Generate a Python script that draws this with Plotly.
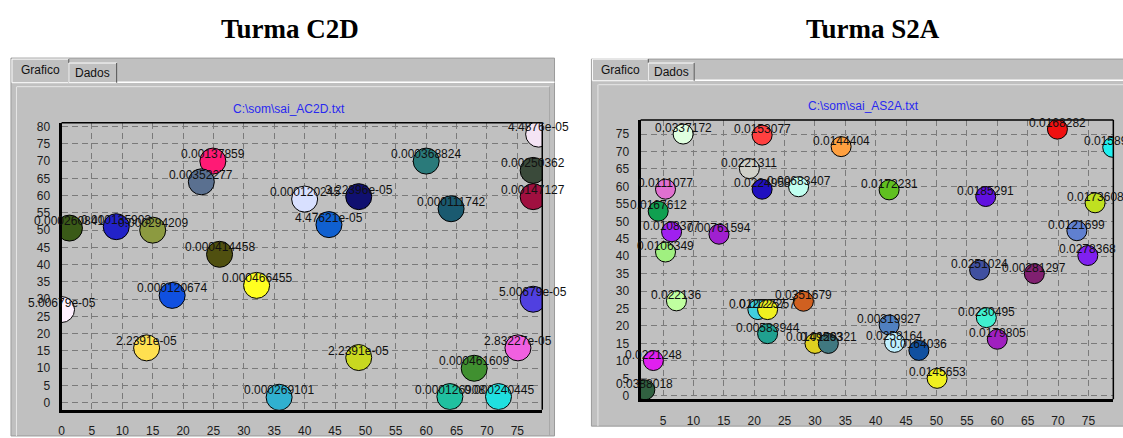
import plotly.graph_objects as go

W, H = 1123, 438

# ---------------- Turma C2D (left) ----------------
c2d_x = [1.3, 9.0, 15.0, 24.9, 23.0, 40.0, 48.9, 44.0, 60.0, 64.1, 78.5, 77.6, 77.6,
         26.0, 32.1, 18.2, 0.0, 14.0, 35.8, 48.9, 77.6, 75.1, 67.9, 63.9, 71.9]
c2d_y = [50.6, 51.0, 50.0, 70.0, 64.0, 59.0, 59.7, 51.6, 70.0, 56.2, 77.8, 67.3, 59.7,
         43.0, 34.0, 31.1, 27.0, 15.9, 1.6, 13.1, 30.0, 15.9, 10.0, 1.8, 1.8]
c2d_labels = ["0.000260841", "0.000135903", "0.000294209", "0.00137859", "0.00352277",
              "0.000120245", "3.22396e-05", "4.47621e-05", "0.000368824", "0.000111742",
              "4.4876e-05", "0.00250362", "0.00147127", "0.000414458", "0.000466455",
              "0.000120674", "5.00679e-05", "2.2391e-05", "0.000269101", "2.2391e-05",
              "5.00679e-05", "2.83227e-05", "0.000461609", "0.000126908", "0.000240445"]
c2d_colors = ["#3A5A18", "#2222C8", "#8C9A40", "#FF1A75", "#5A7090", "#D8E0FF", "#101070",
              "#1060D0", "#2A7A7A", "#1A5A70", "#F4E4F4", "#3A4A3A", "#A01040", "#505010",
              "#FFFF20", "#1050E0", "#FFF0FF", "#FFE050", "#30B0D0", "#C8D820", "#5040E0",
              "#F060E0", "#409030", "#20C0A0", "#20E0E0"]

# ---------------- Turma S2A (right) ----------------
s2a_x = [8.3, 21.3, 34.3, 19.2, 21.3, 27.3, 5.4, 4.2, 6.4, 14.2, 69.9, 79.0, 42.2, 58.1,
         76.1, 73.1, 5.4, 7.2, 20.6, 22.2, 28.1, 22.2, 30.0, 32.2, 3.4, 2.0, 74.9, 57.1,
         66.1, 58.2, 60.0, 42.2, 43.1, 47.1, 50.1]
s2a_y = [75.0, 74.7, 71.4, 65.1, 59.2, 59.9, 59.2, 52.9, 47.0, 46.3, 76.4, 71.2, 59.0, 57.1,
         55.3, 47.3, 41.2, 27.2, 24.7, 24.7, 27.1, 17.8, 15.0, 15.0, 10.1, 1.7, 40.2, 36.0,
         35.0, 22.4, 16.2, 20.3, 15.3, 13.0, 5.0]
s2a_labels = ["0.0337172", "0.0153077", "0.0144404", "0.0221311", "0.0224958", "0.00683407",
              "0.0111077", "0.0167612", "0.0108377", "0.00761594", "0.0168282", "0.0158938",
              "0.0172231", "0.0185291", "0.0173608", "0.0121699", "0.0106349", "0.022136",
              "0.0127257", "0.0127257", "0.0351679", "0.00583944", "0.0149563", "0.0129321",
              "0.0221248", "0.0388018", "0.0278368", "0.0251024", "0.00281297", "0.0230495",
              "0.0179805", "0.00319927", "0.0258164", "0.0164036", "0.0145653"]
s2a_colors = ["#E0FFE0", "#FF4040", "#FFA040", "#D0D0C8", "#2010C0", "#C0FFF0", "#E070D0",
              "#10A050", "#A020F0", "#A020D0", "#F01010", "#20F0F0", "#60C020", "#6010E0",
              "#C0E020", "#6080D0", "#A0F080", "#C0FFA0", "#40D0E0", "#F0F020", "#D06020",
              "#20A090", "#E0D020", "#407880", "#E020F0", "#306040", "#8020F0", "#4050A0",
              "#802070", "#40F0D0", "#A020C0", "#5080C0", "#C0F0FF", "#1050A0", "#F0F020"]

ticks_x = list(range(0, 80, 5))
ticks_y_left = list(range(0, 85, 5))
ticks_y_right = list(range(0, 80, 5))


def px(x):
    return x / W


def py(y):
    return 1 - y / H


fig = go.Figure()
fig.add_trace(go.Scatter(
    x=c2d_x, y=c2d_y, mode="markers", xaxis="x", yaxis="y", hoverinfo="skip",
    marker=dict(size=26, color=c2d_colors, line=dict(color="black", width=1)),
    cliponaxis=True))
fig.add_trace(go.Scatter(
    x=s2a_x, y=s2a_y, mode="markers", xaxis="x2", yaxis="y2", hoverinfo="skip",
    marker=dict(size=20, color=s2a_colors, line=dict(color="black", width=1)),
    cliponaxis=True))

LBL = dict(family="Arial, Liberation Sans", size=12, color="#111")
annotations = []
for xv, yv, t in zip(c2d_x, c2d_y, c2d_labels):
    annotations.append(dict(x=xv, y=yv, xref="x", yref="y", text=t, showarrow=False,
                            xanchor="center", yanchor="middle", yshift=7, font=LBL))
for xv, yv, t in zip(s2a_x, s2a_y, s2a_labels):
    annotations.append(dict(x=xv, y=yv, xref="x2", yref="y2", text=t, showarrow=False,
                            xanchor="center", yanchor="middle", yshift=6, font=LBL))


def paper_text(x, y, text, font):
    annotations.append(dict(x=px(x), y=py(y), xref="paper", yref="paper", text=text,
                            showarrow=False, xanchor="center", yanchor="middle", font=font))


TITLE = dict(family="Liberation Serif, Times New Roman", size=27, color="black")
paper_text(287.5, 26, "<b>Turma C2D</b>", TITLE)
paper_text(872, 26, "<b>Turma S2A</b>", TITLE)
BLUE = dict(family="Arial, Liberation Sans", size=12, color="#2828F0")
paper_text(287, 108, "C:\\som\\sai_AC2D.txt", BLUE)
paper_text(863, 105, "C:\\som\\sai_AS2A.txt", BLUE)
paper_text(38, 68.5, "Grafico", LBL)
paper_text(90, 71, "Dados", LBL)
paper_text(619, 68.5, "Grafico", LBL)
paper_text(670, 70.5, "Dados", LBL)

GREY = "#C0C0C0"
shapes = []


def rect(x0, y0, x1, y1, fill=None, line="#808080", w=1):
    shapes.append(dict(type="rect", xref="paper", yref="paper", x0=px(x0), x1=px(x1),
                       y0=py(y1), y1=py(y0), fillcolor=fill if fill else "rgba(0,0,0,0)",
                       line=dict(color=line, width=w), layer="below"))


def hline(x0, x1, y, color, w=1):
    shapes.append(dict(type="line", xref="paper", yref="paper", x0=px(x0), x1=px(x1),
                       y0=py(y), y1=py(y), line=dict(color=color, width=w), layer="below"))


def vline(x, y0, y1, color, w=1):
    shapes.append(dict(type="line", xref="paper", yref="paper", x0=px(x), x1=px(x),
                       y0=py(y0), y1=py(y1), line=dict(color=color, width=w), layer="below"))


# left panel
rect(8, 56, 553, 440, fill=GREY, line="#9A9A9A")
hline(66, 553, 80.5, "#FFFFFF", 1.5)
hline(14, 548, 85, "#E6E6E6", 1)
vline(13.5, 85, 440, "#E6E6E6", 1)
vline(548, 85, 440, "#A8A8A8", 1)
rect(9, 57, 66, 81, fill=GREY, line="#FFFFFF")
vline(66, 57, 81, "#404040", 1)
rect(66, 61, 114, 81, fill=GREY, line="#FFFFFF")
vline(114, 61, 81, "#404040", 1)

# right panel
rect(590, 57, 1125, 430, fill=GREY, line="#9A9A9A")
hline(647, 1125, 78.5, "#FFFFFF", 1.5)
hline(597, 1125, 83, "#E6E6E6", 1)
vline(596.5, 83, 430, "#E6E6E6", 1)
rect(591, 57, 647, 79, fill=GREY, line="#FFFFFF")
vline(647, 57, 79, "#404040", 1)
rect(647, 61, 693, 79, fill=GREY, line="#FFFFFF")
vline(693, 61, 79, "#404040", 1)

# thin top/right axis frame lines
for xr, yr in (("x domain", "y domain"), ("x2 domain", "y2 domain")):
    shapes.append(dict(type="line", xref=xr, yref=yr, x0=0, x1=1, y0=1, y1=1,
                       line=dict(color="black", width=1.5)))
    shapes.append(dict(type="line", xref=xr, yref=yr, x0=1, x1=1, y0=0, y1=1,
                       line=dict(color="black", width=1.5)))

axis_common = dict(showgrid=True, gridcolor="#7A7A7A", griddash="6px,4px", gridwidth=1,
                   zeroline=False, showline=True, linecolor="black", linewidth=3,
                   ticks="", tickfont=dict(family="Arial, Liberation Sans", size=12, color="#1a1a1a"),
                   fixedrange=True, tickmode="array")

fig.update_layout(
    width=W, height=H, margin=dict(l=0, r=0, t=0, b=0),
    paper_bgcolor="white", plot_bgcolor=GREY, showlegend=False,
    xaxis=dict(domain=[px(58.7), px(540.7)], range=[0, 79.1], anchor="y",
               tickvals=ticks_x, ticktext=[str(v) for v in ticks_x], ticklabelstandoff=8, **axis_common),
    yaxis=dict(domain=[py(413.3), py(121.7)], range=[-2, 81.1], anchor="x",
               tickvals=ticks_y_left, ticktext=[str(v) for v in ticks_y_left], ticklabelstandoff=6, **axis_common),
    xaxis2=dict(domain=[px(639.3), px(1113.3)], range=[1.3, 79.1], anchor="y2",
                tickvals=ticks_x, ticktext=[str(v) for v in ticks_x], ticklabelstandoff=8, **axis_common),
    yaxis2=dict(domain=[py(402.7), py(119)], range=[-1, 79], anchor="x2",
                tickvals=ticks_y_right, ticktext=[str(v) for v in ticks_y_right], ticklabelstandoff=6, **axis_common),
    annotations=annotations, shapes=shapes,
)

fig.write_html("out.html", config={"displayModeBar": False},
               post_script="document.body.style.margin='0px';document.body.style.overflow='hidden';")
